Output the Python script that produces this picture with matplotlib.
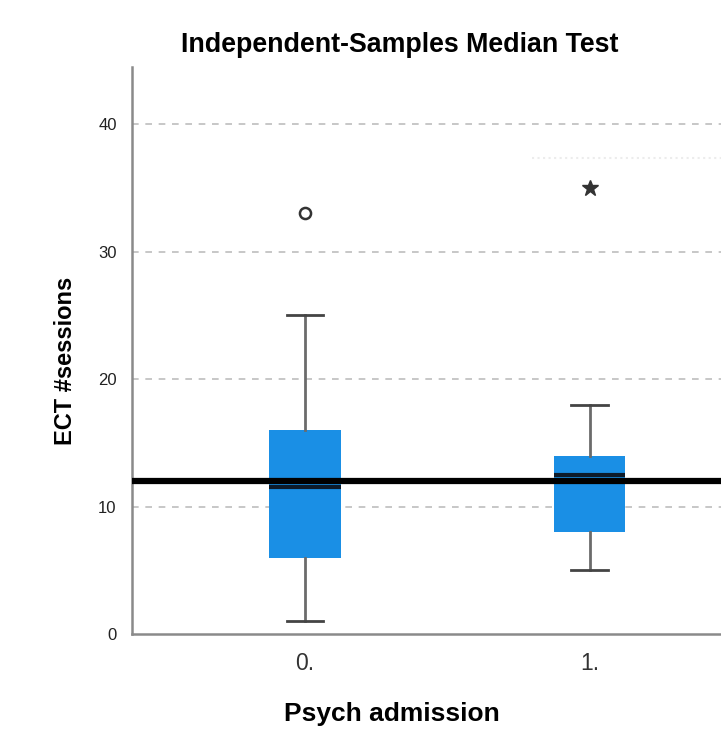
import matplotlib
matplotlib.use("Agg")
import matplotlib.pyplot as plt

plt.rcParams['font.family'] = ['Liberation Sans', 'DejaVu Sans']

# Values
groups = ["0.", "1."]
q1 = [6, 8]
medians = [11.5, 12.5]
q3 = [16, 14]
whisker_lo = [1, 5]
whisker_hi = [25, 18]
outliers = [[33], []]
extremes = [[], [35]]
grand_median = 12
yticks = [0, 10, 20, 30, 40]

fig = plt.figure(figsize=(7.21, 7.32), dpi=100)
ax = fig.add_axes([132 / 721, (732 - 634) / 732, 1 - 132 / 721, (634 - 66.7) / 732])

stats = []
for i in range(len(groups)):
    stats.append({"label": groups[i], "q1": q1[i], "med": medians[i], "q3": q3[i],
                  "whislo": whisker_lo[i], "whishi": whisker_hi[i], "fliers": []})

pos = list(range(len(groups)))
ax.bxp(stats, positions=pos, widths=0.25, patch_artist=True, showfliers=False,
       boxprops=dict(facecolor="#1a8fe5", edgecolor="#1a8fe5", linewidth=0),
       medianprops=dict(color="#0d1b2a", linewidth=3),
       whiskerprops=dict(color="#6b6b6b", linewidth=2),
       capprops=dict(color="#444444", linewidth=2),
       capwidths=0.13, zorder=3)

for i in pos:
    if outliers[i]:
        ax.plot([i] * len(outliers[i]), outliers[i], linestyle="none", marker="o",
                markersize=8, markerfacecolor="white", markeredgecolor="#333333",
                markeredgewidth=1.8, zorder=4)
    if extremes[i]:
        ax.plot([i] * len(extremes[i]), extremes[i], linestyle="none", marker="*",
                markersize=12, color="#333333", zorder=4)

# overall median line
ax.axhline(grand_median, color="black", linewidth=4.5, zorder=5)

# faint reference trace seen on the right
ax.plot([0.797, 1.5], [37.3, 37.3], color="#ececec", linestyle=":", linewidth=1.5, zorder=1)

for yv in yticks[1:]:
    ax.axhline(yv, color="#bdbdbd", linestyle=(0, (4, 4)), linewidth=1.2, zorder=1)

ax.set_xlim(-0.608, 1.462)
ax.set_ylim(0, 44.5)
ax.set_yticks(yticks)
ax.set_yticklabels([str(v) for v in yticks], fontsize=12, color="#222222")
ax.set_xticks(pos)
ax.set_xticklabels(groups, fontsize=16.5, color="#333333")
ax.tick_params(axis="both", length=0)
ax.tick_params(axis="x", pad=13)
ax.tick_params(axis="y", pad=11)

for s in ["top", "right"]:
    ax.spines[s].set_visible(False)
for s in ["left", "bottom"]:
    ax.spines[s].set_color("#8a8a8a")
    ax.spines[s].set_linewidth(1.8)

fig.text(400 / 721, 1 - 45 / 732, "Independent-Samples Median Test", ha="center",
         va="center", fontsize=19.3, fontweight="bold")
fig.text(392 / 721, 1 - 714 / 732, "Psych admission", ha="center", va="center",
         fontsize=19, fontweight="bold")
fig.text(66 / 721, 1 - 361 / 732, "ECT #sessions", ha="center", va="center",
         rotation=90, fontsize=17, fontweight="bold")

fig.savefig("out.png", dpi=100)
